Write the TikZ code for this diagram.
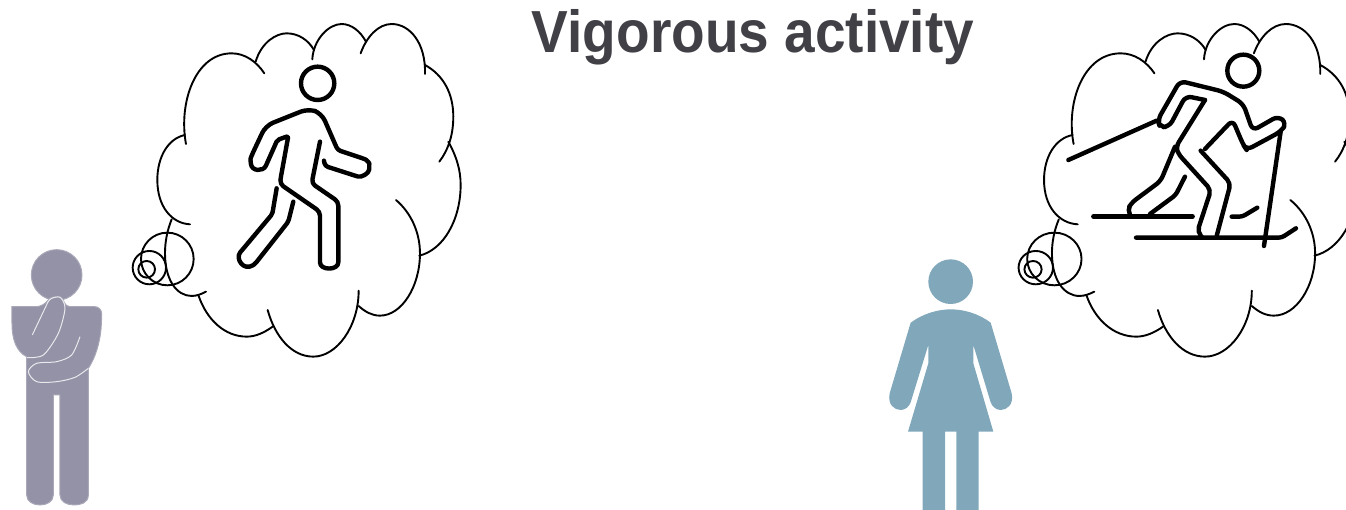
\documentclass[tikz,border=0pt]{standalone}
\usepackage{fontspec}
\setmainfont{Liberation Sans}
\definecolor{titlegrey}{HTML}{404046}
\definecolor{mangrey}{HTML}{9392A6}
\definecolor{womanblue}{HTML}{81A7BB}
\begin{document}
\begin{tikzpicture}[x=1pt,y=-1pt,
	cloudline/.style={line width=1.9pt,line cap=round},
	iconline/.style={line width=4.4pt,line cap=round,line join=round},
	soft edge/.style={fill=mangrey,draw=mangrey!80,line width=1pt},
	thin white/.style={draw=white!80!mangrey,line width=1pt}]
	\useasboundingbox (0,0) rectangle (1346,509);
	\clip (0,0) rectangle (1346,509);
	\node [font=\bfseries\fontsize{55}{60}\selectfont,text=titlegrey,yscale=1.08,transform shape] at (753,37) (title) {Vigorous activity};
	\foreach \ox/\sx in {120/0.3333, 1005.5/0.344}{
		\begin{scope}[shift={(\ox,10)},xscale=\sx,yscale=0.3333,cloudline]
			\draw (198,402) .. controls (175,280) and (225,130) .. (335,130) .. controls (375,130) and (410,155) .. (433,190);
			\draw (407,155) .. controls (425,95) and (470,70) .. (500,70) .. controls (535,70) and (565,90) .. (582,120);
			\draw (577,148) .. controls (580,90) and (625,42) .. (665,42) .. controls (695,42) and (722,65) .. (738,95);
			\draw (722,130) .. controls (740,80) and (775,42) .. (815,42) .. controls (870,42) and (918,100) .. (915,192);
			\draw (915,165) .. controls (970,195) and (1000,250) .. (1000,320) .. controls (1000,375) and (985,420) .. (958,455);
			\draw (985,395) .. controls (1010,440) and (1022,480) .. (1022,525) .. controls (1022,630) and (970,720) .. (898,737);
			\draw (828,570) .. controls (875,610) and (900,670) .. (900,730) .. controls (900,830) and (845,917) .. (780,917) .. controls (755,917) and (735,905) .. (716,888);
			\draw (716,842) .. controls (716,950) and (650,1040) .. (580,1040) .. controls (515,1040) and (465,980) .. (443,900);
			\draw (458,950) .. controls (430,970) and (405,980) .. (380,980) .. controls (315,980) and (260,930) .. (235,855);
			\draw (258,845) .. controls (245,852) and (230,858) .. (215,858) .. controls (170,858) and (135,810) .. (135,730) .. controls (135,695) and (142,660) .. (155,628);
			\draw (210,643) .. controls (155,640) and (112,590) .. (112,510) .. controls (112,440) and (145,385) .. (195,375);
			\draw (142,747) ellipse [x radius=79,y radius=79];
			\draw (88,773) ellipse [x radius=50,y radius=50];
			\draw (80,778) ellipse [x radius=25,y radius=25];
		\end{scope}
	}
	\begin{scope}[shift={(120,10)},scale=0.3333,iconline]
		\draw (593,220) circle [radius=50];
		\draw [rounded corners=3pt] (612,452) -- (615,468) -- (705,497) .. controls (725,503) and (747,490) .. (748,470) .. controls (748,458) and (738,449) .. (728,445) -- (653,420) [rounded corners=8pt] -- (605,310) -- (565,296) -- (437,347) [rounded corners=2pt] -- (397,432) .. controls (394,440) and (391,445) .. (392,455) .. controls (395,485) and (430,485) .. (440,462) -- (472,390) -- (505,378) -- (482,505) [rounded corners=4pt] -- (480,522) -- (600,605) -- (600,745) .. controls (600,782) and (655,782) .. (655,745) -- (655,575) -- (575,520) -- (600,395);
		\draw [rounded corners=2pt] (470,535) -- (457,612) -- (365,722) .. controls (345,745) and (370,785) .. (405,762) -- (505,635) -- (520,575);
	\end{scope}
	\begin{scope}[shift={(1010,10)},scale=0.3333,iconline]
		\draw (700,182) circle [radius=48];
		\draw (175,450) -- (440,332);
		\draw [rounded corners=6pt] (585,270) -- (527,258) -- (478,350) -- (450,352) -- (443,330) -- (510,213) -- (640,245) -- (700,282) -- (728,362) -- (805,318) -- (830,340) -- (812,365) -- (710,420) -- (700,405) -- (668,330) -- (585,417);
		\draw [rounded corners=5pt] (585,270) -- (498,410) -- (505,432) -- (603,540) -- (562,665) -- (575,680);
		\draw [rounded corners=5pt] (572,422) -- (662,520) -- (620,678);
		\draw [rounded corners=5pt] (495,410) -- (452,513) -- (365,578) -- (352,600) -- (360,614);
		\draw [rounded corners=3pt] (525,500) -- (497,555) -- (420,612);
		\draw (250,620) -- (548,620);
		\draw [rounded corners=3pt] (665,620) -- (697,620) -- (742,593);
		\draw [rounded corners=3pt] (378,683) -- (815,683) -- (858,655);
		\draw (812,365) -- (762,708);
	\end{scope}
	\begin{scope}[shift={(0,240)},scale=0.3333]
		\filldraw [soft edge] (170,105) circle [radius=76];
		\filldraw [soft edge,rounded corners=7pt] (36,200) -- (130,200) [rounded corners=4pt] -- (150,172) -- (185,168) -- (198,200) [rounded corners=7pt] -- (305,200) -- (305,240) [sharp corners] .. controls (300,310) and (285,355) .. (265,385) -- (265,765) .. controls (265,790) and (240,795) .. (222,795) .. controls (200,795) and (180,785) .. (180,765) -- (180,465) -- (160,465) -- (160,765) .. controls (160,785) and (140,795) .. (120,795) .. controls (100,795) and (80,785) .. (80,765) -- (80,350) .. controls (50,335) and (36,300) .. (36,250) -- cycle;
		\draw [thin white] plot [smooth] coordinates {(97,285) (135,205) (150,178) (180,172) (195,205) (175,280) (130,345) (80,353)};
		\draw [thin white] plot [smooth] coordinates {(240,290) (215,345) (170,365) (110,370) (85,395) (110,425) (170,425) (225,412) (265,385)};
	\end{scope}
	\begin{scope}[shift={(870,250)},scale=0.3333]
		\fill [womanblue] (242,95) circle [radius=67];
		\fill [womanblue] (122,218) .. controls (160,190) and (205,178) .. (242,178) .. controls (280,178) and (325,190) .. (362,218) -- (425,430) .. controls (432,465) and (410,480) .. (392,480) .. controls (378,480) and (367,470) .. (362,457) -- (310,285) -- (310,340) -- (370,545) -- (326,545) -- (326,790) -- (259,790) -- (259,545) -- (225,545) -- (225,790) -- (158,790) -- (158,545) -- (114,545) -- (175,340) -- (175,285) -- (122,457) .. controls (117,470) and (106,480) .. (92,480) .. controls (74,480) and (52,465) .. (59,430) -- cycle;
	\end{scope}
\end{tikzpicture}
\end{document}
